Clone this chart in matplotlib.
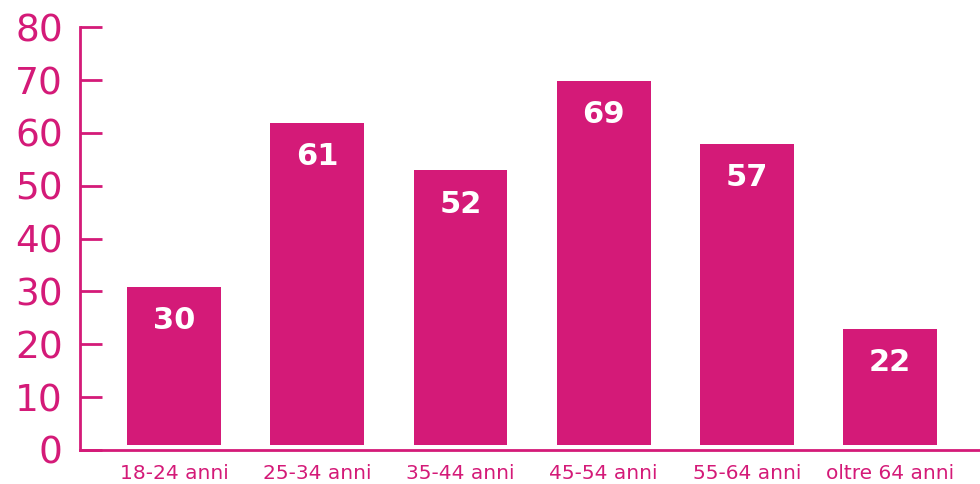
import matplotlib
matplotlib.use("Agg")
import matplotlib.pyplot as plt

# Age groups and counts
categories = ['18-24 anni', '25-34 anni', '35-44 anni', '45-54 anni', '55-64 anni', 'oltre 64 anni']
values = [30, 61, 52, 69, 57, 22]
y_ticks = [0, 10, 20, 30, 40, 50, 60, 70, 80]

MAGENTA = '#D41A78'

fig = plt.figure(figsize=(9.8, 4.84), dpi=100)
ax = fig.add_axes([79.5 / 980, 34 / 484, 1 - 79.5 / 980, (450 - 27.3) / 484])

x = list(range(len(categories)))
# bars sit slightly above the baseline in the original
base = 0.9
ax.bar(x, values, width=0.656, bottom=base, color=MAGENTA, zorder=2)

for xi, v in zip(x, values):
    ax.text(xi, v + base - 6.4, str(v), ha='center', va='center',
            color='white', fontsize=22, fontweight='heavy')

ax.set_xlim(-0.661, 5.628)
ax.set_ylim(0, 80)
ax.set_yticks(y_ticks)
ax.set_xticks(x)
ax.set_xticklabels(categories)

for side in ['top', 'right']:
    ax.spines[side].set_visible(False)
for side in ['left', 'bottom']:
    ax.spines[side].set_color(MAGENTA)
    ax.spines[side].set_linewidth(2)

ax.tick_params(axis='y', direction='in', length=15.5, width=2, color=MAGENTA,
               labelsize=27, labelcolor=MAGENTA, pad=12)
ax.tick_params(axis='x', length=0, labelsize=14.5, labelcolor=MAGENTA, pad=10)

plt.savefig('out.png', dpi=100)
